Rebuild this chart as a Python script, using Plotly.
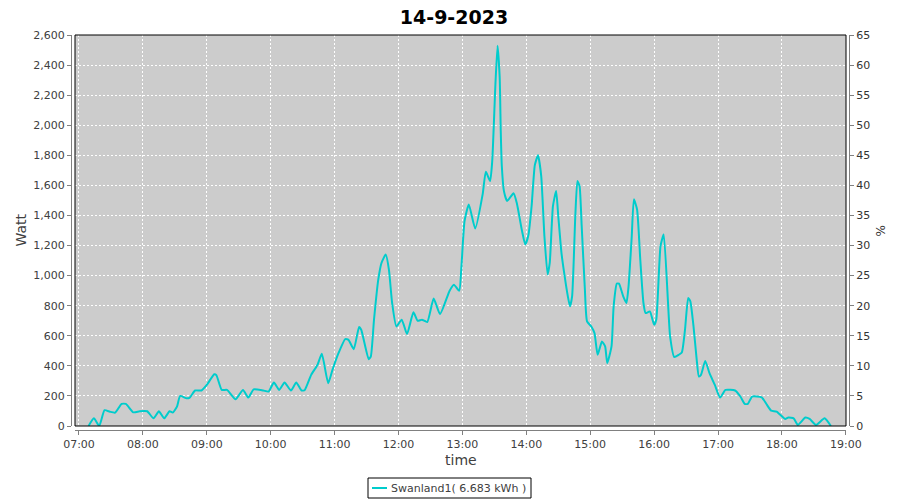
import plotly.graph_objects as go

DATE = "2023-09-14"
TITLE = "14-9-2023"
SERIES_NAME = "Swanland1( 6.683 kWh )"

times = [
    "07:09", "07:14", "07:19", "07:24", "07:29", "07:34", "07:40", "07:44", "07:51", "07:57",
    "08:04", "08:10", "08:15", "08:20", "08:25", "08:28", "08:32", "08:35", "08:41", "08:44",
    "08:49", "08:55", "09:00", "09:07", "09:09", "09:14", "09:19", "09:27", "09:34", "09:39",
    "09:44", "09:53", "09:58", "10:03", "10:08", "10:13", "10:19", "10:24", "10:29", "10:32",
    "10:38", "10:42", "10:44", "10:48", "10:54", "10:58", "11:03", "11:10", "11:13", "11:18",
    "11:23", "11:25", "11:32", "11:34", "11:37", "11:41", "11:44", "11:48", "11:51", "11:54",
    "11:58", "12:03", "12:08", "12:14", "12:18", "12:22", "12:27", "12:33", "12:39", "12:48",
    "12:52", "12:57", "12:59", "13:02", "13:06", "13:12", "13:19", "13:22", "13:26", "13:28",
    "13:31", "13:33", "13:35", "13:36", "13:37", "13:39", "13:42", "13:48", "13:51", "13:56",
    "13:59", "14:02", "14:05", "14:08", "14:11", "14:14", "14:17", "14:20", "14:22", "14:25",
    "14:28", "14:30", "14:33", "14:36", "14:39", "14:41", "14:43", "14:46", "14:48", "14:50",
    "14:52", "14:55", "14:57", "15:01", "15:04", "15:07", "15:11", "15:14", "15:16", "15:20",
    "15:22", "15:25", "15:27", "15:31", "15:34", "15:36", "15:39", "15:41", "15:44", "15:47",
    "15:50", "15:52", "15:56", "16:00", "16:02", "16:06", "16:09", "16:15", "16:19", "16:23",
    "16:26", "16:29", "16:32", "16:34", "16:37", "16:40", "16:42", "16:44", "16:48", "16:52",
    "16:57", "17:02", "17:07", "17:16", "17:21", "17:25", "17:28", "17:32", "17:41", "17:46",
    "17:50", "17:55", "18:03", "18:06", "18:11", "18:15", "18:22", "18:26", "18:32", "18:40",
    "18:46",
]

watts = [
    0, 51, 0, 105, 95, 89, 147, 147, 91, 98,
    98, 51, 98, 51, 98, 89, 129, 200, 184, 189,
    236, 236, 273, 344, 338, 240, 240, 178, 240, 189,
    244, 236, 229, 289, 240, 289, 236, 289, 236, 240,
    340, 384, 407, 480, 284, 373, 473, 578, 573, 511,
    658, 640, 444, 462, 707, 973, 1084, 1140, 1040, 818,
    662, 707, 611, 756, 700, 707, 691, 847, 744, 900,
    940, 900, 1051, 1362, 1473, 1313, 1540, 1691, 1629, 1762,
    2273, 2529, 2318, 1962, 1729, 1562, 1496, 1547, 1484, 1296,
    1207, 1270, 1465, 1735, 1800, 1662, 1262, 1007, 1084, 1462,
    1562, 1396, 1151, 996, 862, 796, 862, 1396, 1629, 1596,
    1329, 907, 696, 662, 618, 473, 562, 529, 418, 529,
    796, 947, 947, 862, 818, 929, 1262, 1507, 1440, 1107,
    818, 751, 762, 673, 707, 1196, 1273, 596, 458, 473,
    489, 640, 851, 829, 662, 440, 329, 340, 433, 351,
    273, 189, 240, 236, 196, 147, 147, 196, 191, 140,
    102, 96, 47, 56, 51, 7, 56, 47, 7, 51,
    0,
]

x_vals = [f"{DATE} {t}:00" for t in times]

# page body has an 8px default margin; figure is placed at (8, 8)
OFF = 8
W, H = 900 - OFF, 500 - OFF
ML, MR, MT, MB = 60 - OFF, 40, 30 - OFF, 60
PW, PH = W - ML - MR, H - MT - MB


def px_x(p):
    return (p - OFF - ML) / PW


def px_y(p):
    return (H - MB - (p - OFF)) / PH


plot_l, plot_r, plot_t, plot_b = 75, 846, 35, 426
LINE_COLOR = "#00CCCC"

fig = go.Figure()
fig.add_trace(go.Scatter(
    x=x_vals, y=watts, mode="lines", name=SERIES_NAME,
    line=dict(color=LINE_COLOR, width=2, shape="spline", smoothing=0.5),
    yaxis="y", showlegend=False,
))
fig.add_trace(go.Scatter(
    x=[x_vals[0]], y=[None], mode="lines", showlegend=False,
    hoverinfo="skip", yaxis="y2",
))

axis_gray = "#808080"
tick_font = dict(family="DejaVu Sans", size=11, color="#404040")
grid_dash = "2px,2px"

fig.update_layout(
    width=W, height=H,
    margin=dict(l=ML, r=MR, t=MT, b=MB, autoexpand=False),
    paper_bgcolor="white",
    plot_bgcolor="#CCCCCC",
    font=dict(family="DejaVu Sans", color="#404040"),
    title=dict(text=f"<b>{TITLE}</b>", x=0.5, xanchor="center",
               y=1 - (17 - OFF) / H, yanchor="middle", yref="container",
               font=dict(family="DejaVu Sans", size=19, color="black")),
    xaxis=dict(
        domain=[px_x(plot_l), px_x(plot_r)],
        anchor="free", position=px_y(430),
        type="date",
        range=[f"{DATE} 06:56:15", f"{DATE} 19:00:10"],
        dtick=3600000, tick0=f"{DATE} 07:00:00", tickformat="%H:%M",
        showline=True, linecolor=axis_gray, linewidth=1,
        ticks="outside", ticklen=4, tickcolor=axis_gray,
        showgrid=True, gridcolor="white", griddash=grid_dash, gridwidth=1,
        zeroline=False, tickfont=tick_font,
    ),
    yaxis=dict(
        domain=[px_y(plot_b), px_y(plot_t)],
        anchor="free", position=px_x(71),
        range=[0, 2600], dtick=200, tickformat=",d",
        showline=True, linecolor=axis_gray, linewidth=1,
        ticks="outside", ticklen=4, tickcolor=axis_gray,
        showgrid=True, gridcolor="white", griddash=grid_dash, gridwidth=1,
        zeroline=False, tickfont=tick_font,
    ),
    yaxis2=dict(
        overlaying="y", side="right",
        anchor="free", position=px_x(849),
        range=[0, 65], dtick=5,
        showline=True, linecolor=axis_gray, linewidth=1,
        ticks="outside", ticklen=4, tickcolor=axis_gray,
        showgrid=False, zeroline=False,
        tickfont=dict(family="DejaVu Sans", size=11, color="#333333"),
    ),
    showlegend=False,
    shapes=[
        dict(type="rect", xref="paper", yref="paper",
             x0=px_x(plot_l), x1=px_x(plot_r), y0=px_y(plot_b), y1=px_y(plot_t),
             line=dict(color="black", width=1), layer="above"),
        # legend box
        dict(type="rect", xref="paper", yref="paper",
             x0=px_x(368), x1=px_x(531), y0=px_y(498), y1=px_y(478),
             line=dict(color="black", width=1), fillcolor="white", layer="above"),
        dict(type="line", xref="paper", yref="paper",
             x0=px_x(372), x1=px_x(387), y0=px_y(488), y1=px_y(488),
             line=dict(color=LINE_COLOR, width=2), layer="above"),
    ],
    annotations=[
        dict(text="Watt", x=px_x(20), y=px_y(230.5), xref="paper", yref="paper",
             showarrow=False, textangle=-90, xanchor="center", yanchor="middle",
             font=dict(family="DejaVu Sans", size=14, color="#404040")),
        dict(text="time", x=px_x(460.5), y=px_y(460), xref="paper", yref="paper",
             showarrow=False, xanchor="center", yanchor="middle",
             font=dict(family="DejaVu Sans", size=14, color="#404040")),
        dict(text="%", x=px_x(880), y=px_y(230.5), xref="paper", yref="paper",
             showarrow=False, textangle=-90, xanchor="center", yanchor="middle",
             font=dict(family="DejaVu Sans", size=12, color="#333333")),
        dict(text=SERIES_NAME, x=px_x(389), y=px_y(488), xref="paper", yref="paper",
             showarrow=False, xanchor="left", yanchor="middle",
             font=dict(family="DejaVu Sans", size=11, color="#404040")),
    ],
)

fig.write_html("out.html")
